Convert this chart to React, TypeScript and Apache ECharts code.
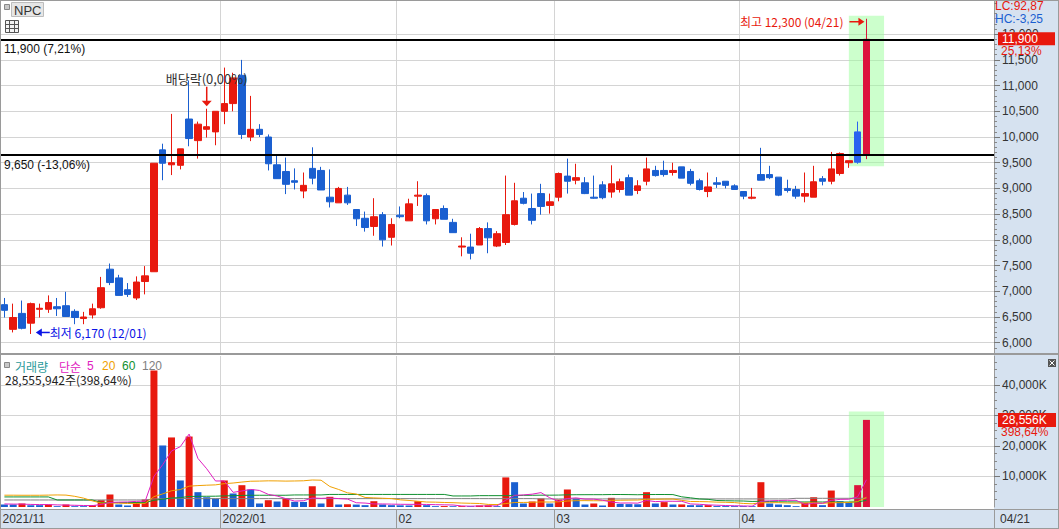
import { useEffect, useRef } from 'react';
import * as echarts from 'echarts';

const dates = [
  '2021/11/26','2021/11/29','2021/11/30',
  '2021/12/01','2021/12/02','2021/12/03','2021/12/06','2021/12/07','2021/12/08','2021/12/09','2021/12/10','2021/12/13','2021/12/14','2021/12/15','2021/12/16','2021/12/17','2021/12/20','2021/12/21','2021/12/22','2021/12/23','2021/12/24','2021/12/27','2021/12/28','2021/12/29','2021/12/30',
  '2022/01/03','2022/01/04','2022/01/05','2022/01/06','2022/01/07','2022/01/10','2022/01/11','2022/01/12','2022/01/13','2022/01/14','2022/01/17','2022/01/18','2022/01/19','2022/01/20','2022/01/21','2022/01/24','2022/01/25','2022/01/26','2022/01/27','2022/01/28',
  '2022/02/03','2022/02/04','2022/02/07','2022/02/08','2022/02/09','2022/02/10','2022/02/11','2022/02/14','2022/02/15','2022/02/16','2022/02/17','2022/02/18','2022/02/21','2022/02/22','2022/02/23','2022/02/24','2022/02/25','2022/02/28',
  '2022/03/02','2022/03/03','2022/03/04','2022/03/07','2022/03/08','2022/03/10','2022/03/11','2022/03/14','2022/03/15','2022/03/16','2022/03/17','2022/03/18','2022/03/21','2022/03/22','2022/03/23','2022/03/24','2022/03/25','2022/03/28','2022/03/29','2022/03/30','2022/03/31',
  '2022/04/01','2022/04/04','2022/04/05','2022/04/06','2022/04/07','2022/04/08','2022/04/11','2022/04/12','2022/04/13','2022/04/14','2022/04/15','2022/04/18','2022/04/19','2022/04/20','2022/04/21'
];

const opens = [6740,6260,6570,6380,6650,6650,6700,6720,6610,6470, 6540,6680,7430,7260,7030,6870,7190,7380,9750,9460, 9450,10350,9930,10150,10100,10500,10650,11200,10000,10150, 10000,9460,9330,9150,8950,9390,9350,8830,8720,8870, 8590,8420,8260,8490,8050,8480,8370,8850,8860,8410, 8610,8340,7860,7860,7900,8220,7880,7950,8300,8810, 8610,8900,8670,8830,9240,9160,9110,8830,9070,8930, 8980,9210,8960,9140,9350,9350,9310,9420,9330,9150, 8940,9110,9140,9050,8940,8810,9270,9270,9220,9000, 8980,8850,8830,9190,9140,9290,9500,10100,9650];
const closes = [6630,6490,6280,6760,6670,6780,6660,6510,6490,6500, 6660,7070,7170,6920,6940,7180,7300,9490,9490,9500, 9770,9970,10250,10200,10500,10650,11150,10050,10150,10050, 9480,9190,9080,9120,9060,9200,8970,8740,9000,8720, 8410,8240,8450,8000,8300,8450,8700,8870,8370,8590, 8400,8140,7880,7740,8220,8040,8120,8490,8760,8710, 8380,8650,8740,9290,9140,9210,8900,8810,8820,9090, 9130,8870,9050,9380,9250,9270,9350,9200,9100,8980, 9030,9080,9060,8980,8850,8830,9160,9210,8870,8960, 8850,8900,9130,9140,9380,9680,9540,9510,11900];
const lows = [6490,6200,6260,6170,6490,6580,6520,6510,6360,6360, 6470,6660,7120,6920,6890,6830,6940,7380,9160,9260, 9370,9820,9580,9990,9840,10250,10500,9960,9920,10000, 9350,9190,8890,8980,8810,9080,8970,8630,8720,8680, 8270,8160,8080,7870,7890,8420,8370,8660,8300,8300, 8400,8140,7680,7620,7900,7740,7860,7900,8280,8690, 8300,8490,8510,8750,8900,9080,8890,8800,8790,8820, 8920,8870,8890,9060,9230,9230,9250,9200,9060,8960, 8830,9010,9000,8980,8790,8790,9160,9180,8850,8920, 8800,8730,8830,9060,9080,9250,9400,9480,9570];
const highs = [6870,6760,6820,6780,6760,6920,6870,6990,6650,6600, 6760,7280,7540,7320,7160,7290,7490,9490,9870,10450, 9770,11100,10300,10550,10500,11350,11250,11500,10800,10250, 10050,9640,9600,9390,9310,9800,9420,9370,9030,9030, 8590,8550,8810,8540,8420,8650,8800,9140,8900,8590, 8670,8410,8050,8120,8250,8340,8170,9250,9110,8930, 8900,9090,8900,9310,9580,9480,9220,9250,9140,9450, 9190,9270,9160,9600,9440,9540,9500,9420,9380,9190, 9310,9220,9140,9080,8950,9010,9790,9440,9220,9170, 9050,9310,9440,9240,9710,9700,9540,10300,12300];

// volume in thousand shares (K)
const volumes = [820,820,1150,600,600,820,270,820,270,270, 600,2230,4100,820,500,1600,2460,44750,20170,22800, 8700,23100,4860,3200,2800,8700,4430,7150,5740,1150, 2230,1800,2800,1700,1650,6800,1150,3340,820,900, 800,600,1900,820,600,550,500,1900,600,270, 300,250,280,250,500,550,270,9700,8130,1150, 1800,2800,1150,2460,5740,2800,820,1150,500,3000, 1000,950,900,4860,1150,1600,820,850,600,580, 620,300,290,280,270,260,8130,1150,820,600, 270,1380,3200,600,5400,1900,1600,7163,28556];

const ma5 = [1000,950,950,850,800,800,690,620,560,490, 450,840,1490,1600,1650,1850,1900,10030,13900,18360, 19780,23900,15930,12530,8530,8530,4800,5260,5760,5430, 4140,3610,2740,1940,2050,2960,2830,2940,2760,2600, 1400,1290,1000,1000,940,890,870,870,830,760, 710,660,340,270,320,370,370,2250,3830,3960, 4210,4720,3010,1870,2790,2990,2590,2590,2200,1650, 1290,1320,1270,2140,1770,1890,1870,1860,1000,890, 690,590,480,410,350,280,1850,2020,2130,2190, 2190,840,1250,1210,2170,2500,2540,3330,8920];
const ma20 = [3870,3870,3850,3850,3850,3900,3950,3900,3500,2900, 2000,1300,1350,1250,1150,1150,1200,3400,4300,5324, 5718,6832,7017,7147,7257,7651,7859,8176,8449,8493, 8575,8553,8488,8532,8590,8850,8784,6714,5746,4651, 4256,3131,2983,2864,2754,2347,2150,1888,1631,1587, 1490,1413,1287,1214,1157,844,800,1118,1484,1496, 1546,1656,1619,1701,1958,2070,2086,2049,2044,2180, 2215,2250,2281,2512,2544,2597,2624,2182,1805,1777, 1718,1593,1550,1441,1167,1040,1406,1406,1422,1302, 1265,1287,1402,1189,1401,1416,1455,1771,3168];
const ma60 = [3300,3300,3300,3300,3300,3300,2300,2300,2300,2300, 2300,1450,1450,1450,1450,1450,1450,2200,2550,2930, 3080,3450,3500,3520,3540,3650,3700,3800,3850,3850, 3850,3850,3850,3950,3950,3950,3950,4120,4120,4120, 4120,4120,4120,4120,4120,4120,4120,4120,4120,4120, 4120,3620,3620,3620,3720,3720,3720,3720,3720,3824, 3840,3873,3873,3904,3990,4023,4032,4037,4041,4087, 4093,4072,4019,4086,4097,4097,4069,3338,3011,2641, 2507,2127,2050,2002,1960,1819,1881,1781,1699,1689, 1657,1650,1656,1638,1701,1619,1626,1690,2152];
const ma120 = [2300,2300,2300,2300,2300,2300,2300,2300,2300,2300, 2300,2300,2300,2300,2300,2300,2300,2650,2750,2850, 2850,2750,2750,2750,2750,2750,2750,2750,2750,2750, 2750,2750,2750,2750,2750,2750,2750,2750,2750,2750, 2750,2750,2750,2750,2750,2750,2750,2750,2750,2750, 2750,2750,2750,2750,2750,2750,2750,2750,2750,2750, 2750,2650,2650,2650,2650,2650,2650,2650,2650,2650, 2650,2650,2650,2650,2650,2650,2650,2650,2650,2650, 2650,2650,2650,2650,2650,2650,2650,2650,2650,2650, 2850,2850,2850,2850,2850,2850,2850,2850,2850];

const priceTicks = [6000,6500,7000,7500,8000,8500,9000,9500,10000,10500,11000,11500,12000];
const volTicks = [10000,20000,30000,40000];
const monthStarts = [0, 25, 45, 63, 84];
const monthLabels = ['2021/11', '2022/01', '02', '03', '04'];

const FONT = '"Liberation Sans", "Noto Sans CJK KR", sans-serif';
const KFONT = '"Noto Sans CJK KR", "Liberation Sans", sans-serif';
const RED = '#e8190e';
const BLUE = '#1a5fd0';
const CRIMSON = '#dc143c';
const BLUE2 = '#2a62f0';
const PANEL = '#d6e2f0';
const GRID = '#d4d4d4';
const BORDER = '#9a9a9a';
const HILITE = 'rgba(153,255,153,0.5)';

const SLOTS = 113;
const PLOT_W = 994;

const fmt = (v: number) => v.toLocaleString('en-US');

export default function App() {
  const ref = useRef<HTMLDivElement>(null);
  useEffect(() => {
    const chart = echarts.init(ref.current!, undefined, { renderer: 'svg' });
    const n = dates.length;
    const cats = [...dates, ...Array.from({ length: SLOTS - n }, (_, k) => 'empty' + k)];

    const candleData = dates.map((_, i) => {
      const item: any = { value: [opens[i], closes[i], lows[i], highs[i]] };
      if (i === n - 1) item.itemStyle = { color: CRIMSON, borderColor: CRIMSON };
      if (i === n - 2) item.itemStyle = { color0: BLUE2, borderColor0: BLUE2 };
      return item;
    });
    const volData = volumes.map((v, i) => ({
      value: v,
      itemStyle: { color: i >= n - 2 ? CRIMSON : i > 0 && v > volumes[i - 1] ? RED : BLUE },
    }));

    const minorPrice: number[] = [];
    for (let v = 5900; v <= 12600; v += 100) if (v % 500 !== 0) minorPrice.push(v);
    const minorVol: number[] = [];
    for (let v = 2500; v <= 47500; v += 2500) if (v % 10000 !== 0) minorVol.push(v);

    const xAxisBase = (gridIndex: number) => ({
      type: 'category',
      gridIndex,
      data: cats,
      boundaryGap: true,
      axisLine: { show: false },
      axisTick: { show: false },
      axisLabel: { show: false },
      splitLine: {
        show: true,
        interval: (idx: number) => monthStarts.indexOf(idx) > 0,
        lineStyle: { color: GRID, width: 1 },
      },
    });

    const hlFrom = cats[n - 3];
    const hlTo = cats[n + 1];

    const lineSeries = (name: string, data: number[], color: string, extra: any = {}) => ({
      name,
      type: 'line',
      xAxisIndex: 1,
      yAxisIndex: 2,
      data,
      symbol: 'none',
      showSymbol: false,
      silent: true,
      lineStyle: { color, width: 1 },
      z: 3,
      ...extra,
    });

    chart.setOption({
      animation: false,
      grid: [
        { left: 0, top: 1, width: PLOT_W, height: 352 },
        { left: 0, top: 356, width: PLOT_W, height: 151 },
      ],
      xAxis: [xAxisBase(0), xAxisBase(1)],
      yAxis: [
        {
          type: 'value', gridIndex: 0, position: 'right', min: 5800, max: 12645,
          axisLine: { show: true, lineStyle: { color: BORDER } },
          axisTick: { show: true, length: 6, customValues: priceTicks, lineStyle: { color: '#777' } },
          axisLabel: { customValues: priceTicks, formatter: (v: number) => fmt(v), color: '#333', fontSize: 12, fontFamily: FONT, margin: 8 },
          splitLine: { show: true, lineStyle: { color: GRID } },
        },
        {
          type: 'value', gridIndex: 0, position: 'right', min: 5800, max: 12645,
          axisLine: { show: false },
          axisTick: { show: true, length: 3, customValues: minorPrice, lineStyle: { color: '#888' } },
          axisLabel: { show: false },
          splitLine: { show: false },
        },
        {
          type: 'value', gridIndex: 1, position: 'right', min: 0, max: 49500,
          axisLine: { show: true, lineStyle: { color: BORDER } },
          axisTick: { show: true, length: 6, customValues: volTicks, lineStyle: { color: '#777' } },
          axisLabel: { customValues: volTicks, formatter: (v: number) => fmt(v) + 'K', color: '#333', fontSize: 12, fontFamily: FONT, margin: 8 },
          splitLine: { show: true, lineStyle: { color: GRID } },
        },
        {
          type: 'value', gridIndex: 1, position: 'right', min: 0, max: 49500,
          axisLine: { show: false },
          axisTick: { show: true, length: 3, customValues: minorVol, lineStyle: { color: '#888' } },
          axisLabel: { show: false },
          splitLine: { show: false },
        },
      ],
      series: [
        {
          type: 'candlestick',
          xAxisIndex: 0,
          yAxisIndex: 0,
          data: candleData,
          barWidth: 7,
          itemStyle: { color: RED, color0: BLUE, borderColor: RED, borderColor0: BLUE, borderWidth: 1 },
          markLine: {
            silent: true,
            symbol: 'none',
            lineStyle: { color: '#000', width: 2, type: 'solid' },
            label: { show: true, position: 'insideStartBottom', color: '#111', fontSize: 12, fontFamily: FONT, distance: 4 },
            data: [
              { yAxis: 11900, label: { formatter: '11,900 (7,21%)' } },
              { yAxis: 9650, label: { formatter: '9,650 (-13,06%)' } },
            ],
          },
          markArea: {
            silent: true,
            itemStyle: { color: HILITE },
            data: [[{ xAxis: hlFrom, yAxis: 9430 }, { xAxis: hlTo, yAxis: 12360 }]],
          },
        },
        {
          type: 'bar',
          xAxisIndex: 1,
          yAxisIndex: 2,
          data: volData,
          barWidth: 7,
          silent: true,
          z: 2,
        },
        lineSeries('120', ma120, '#808080', {
          markArea: {
            silent: true,
            itemStyle: { color: HILITE },
            data: [[{ xAxis: hlFrom, yAxis: 0 }, { xAxis: hlTo, yAxis: 31300 }]],
          },
        }),
        lineSeries('60', ma60, '#109030'),
        lineSeries('20', ma20, '#f0a000'),
        lineSeries('5', ma5, '#e020c0'),
      ],
    });

    // overlays positioned through the chart's own scales
    const band = PLOT_W / SLOTS;
    const hi = chart.convertToPixel({ gridIndex: 0 }, [n - 1, highs[n - 1]]) as number[];
    const lo = chart.convertToPixel({ gridIndex: 0 }, [3, lows[3]]) as number[];
    const dv = chart.convertToPixel({ gridIndex: 0 }, [23, highs[23]]) as number[];
    const curY = (chart.convertToPixel({ gridIndex: 0 }, [0, closes[n - 1]]) as number[])[1];
    const volY = (chart.convertToPixel({ gridIndex: 1 }, [0, volumes[n - 1]]) as number[])[1];

    const txt = (x: number, y: number, text: string, fill: string, size = 12, align = 'left', font = FONT) => ({
      type: 'text', x, y, z: 100, silent: true,
      style: { text, fill, fontSize: size, fontFamily: font, align, verticalAlign: 'middle' },
    });
    const ln = (x1: number, y1: number, x2: number, y2: number, stroke: string, w = 1, z = 90) => ({
      type: 'line', z, silent: true, shape: { x1, y1, x2, y2 }, style: { stroke, lineWidth: w },
    });
    const rc = (x: number, y: number, w: number, h: number, fill: string, stroke?: string, z = 90) => ({
      type: 'rect', z, silent: true, shape: { x, y, width: w, height: h },
      style: { fill, stroke: stroke || 'none', lineWidth: stroke ? 1 : 0 },
    });
    const pg = (points: number[][], fill: string, z = 95) => ({
      type: 'polygon', z, silent: true, shape: { points }, style: { fill },
    });

    const g: any[] = [
      rc(994, 0, 65, 529, PANEL, undefined, -5),
      rc(0, 509, 1059, 20, PANEL, undefined, -5),
      ln(0, 0.5, 1059, 0.5, BORDER),
      ln(0.5, 0, 0.5, 529, BORDER),
      ln(1058.5, 0, 1058.5, 529, BORDER),
      ln(0, 354, 1059, 354, BORDER, 2),
      ln(0, 509.5, 1059, 509.5, BORDER),
      ln(0, 528.5, 1059, 528.5, BORDER),
      ln(994.5, 509, 994.5, 529, BORDER),
      // header (price)
      rc(4.5, 4.5, 5, 5, '#c8c8c8', '#888'),
      rc(11.5, 2.5, 32, 14, '#e6e6e6', '#bdbdbd'),
      txt(14, 10, 'NPC', '#333', 13),
      rc(5.5, 20.5, 13, 12, '#f4f4f4', '#555'),
      ln(5.5, 24.5, 18.5, 24.5, '#555'),
      ln(5.5, 28.5, 18.5, 28.5, '#555'),
      ln(9.5, 20.5, 9.5, 32.5, '#555'),
      ln(14.5, 20.5, 14.5, 32.5, '#555'),
      // right side price info
      txt(995, 6, 'LC:92,87', RED, 12),
      txt(995, 19, 'HC:-3,25', BLUE, 12),
      rc(998, curY - 7, 57, 13, RED),
      txt(1002, curY - 0.5, fmt(closes[n - 1]), '#fff', 12),
      txt(1001, curY + 12, '25,13%', RED, 12),
      // high annotation
      txt(hi[0] - 23, hi[1] + 3, '최고 12,300 (04/21)', RED, 12, 'right', KFONT),
      ln(hi[0] - 17, hi[1] + 3, hi[0] - 7, hi[1] + 3, RED, 1.5),
      pg([[hi[0] - 8, hi[1] - 1], [hi[0] - 2, hi[1] + 3], [hi[0] - 8, hi[1] + 7]], RED),
      // low annotation
      pg([[lo[0] + 5, lo[1] - 1.5], [lo[0] + 11, lo[1] - 5.5], [lo[0] + 11, lo[1] + 2.5]], '#0a14e6'),
      ln(lo[0] + 10, lo[1] - 1.5, lo[0] + 19, lo[1] - 1.5, '#0a14e6', 1.5),
      txt(lo[0] + 19, lo[1] - 1.5, '최저 6,170 (12/01)', '#0a14e6', 12, 'left', KFONT),
      // ex-dividend annotation
      txt(dv[0], dv[1] - 30, '배당락(0,00%)', '#333', 13, 'center', KFONT),
      ln(dv[0], dv[1] - 22, dv[0], dv[1] - 7, RED, 1.5),
      pg([[dv[0] - 5, dv[1] - 8], [dv[0] + 5, dv[1] - 8], [dv[0], dv[1] - 2.5]], RED),
      // volume header
      rc(4.5, 362.5, 5, 5, '#c8c8c8', '#888'),
      txt(15, 366, '거래량', '#2a9a9a', 12, 'left', KFONT),
      txt(59, 366, '단순', '#e020c0', 12, 'left', KFONT),
      txt(87, 366, '5', '#e020c0', 12),
      txt(102, 366, '20', '#f0a000', 12),
      txt(122, 366, '60', '#109030', 12),
      txt(142, 366, '120', '#808080', 12),
      txt(5, 379, '28,555,942주(398,64%)', '#222', 12, 'left', KFONT),
      // right side volume info
      rc(998, volY - 7, 58, 14, RED),
      txt(1002, volY, '28,556K', '#fff', 12),
      txt(1001, volY + 12.5, '398,64%', RED, 12),
      rc(1048, 359, 8, 8, '#555'),
      ln(1049.5, 360.5, 1054.5, 365.5, '#fff'),
      ln(1054.5, 360.5, 1049.5, 365.5, '#fff'),
      // date strip
      txt(1000, 519, '04/21', '#333', 12),
    ];
    monthStarts.forEach((idx, k) => {
      const x = Math.round(idx * band) + 0.5;
      if (idx > 0) g.push(ln(x, 509, x, 529, BORDER));
      g.push(txt(x + 2, 519, monthLabels[k], '#333', 12));
    });

    chart.setOption({ graphic: g });

    return () => chart.dispose();
  }, []);
  return <div ref={ref} style={{ position: 'fixed', left: 0, top: 0, width: 1059, height: 529, background: '#fff' }} />;
}
